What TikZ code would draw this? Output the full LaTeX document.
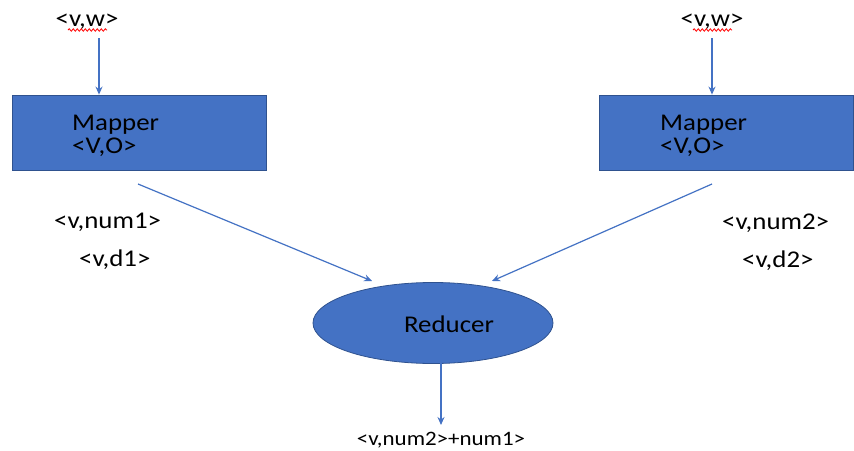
\documentclass[tikz,border=0pt]{standalone}
\usepackage{fontspec}
\setmainfont[FakeStretch=1.12]{Carlito}
\usetikzlibrary{arrows.meta,shapes.geometric,decorations.pathmorphing}
\definecolor{accent}{HTML}{4472C4}
\definecolor{accentdark}{HTML}{2F528F}
\tikzset{
  x=1pt, y=-1pt,
  every node/.style={font=\fontsize{24}{28}\selectfont, text=black, inner sep=0pt},
  smalltext/.style={font=\fontsize{20.5}{24}\selectfont},
  mapbox/.style={draw=accentdark, line width=0.8pt, fill=accent, minimum width=254pt, minimum height=75pt},
  redbox/.style={ellipse, draw=accentdark, line width=0.8pt, fill=accent, minimum width=240pt, minimum height=81pt},
  flow/.style={draw=accent, line width=1.2pt, -{Stealth[length=8pt,width=7pt]}},
  squiggle/.style={draw=red, line width=0.8pt, decorate, decoration={snake, amplitude=1.2pt, segment length=4pt}},
}
\begin{document}
\begin{tikzpicture}
\useasboundingbox (0,0) rectangle (854,450);
\fill[white] (0,0) rectangle (854,450);

% mapper boxes
\node[mapbox] (m1) at (139,132.5) {};
\node[mapbox] (m2) at (726,132.5) {};
\node[anchor=base west] (m1a) at (72,130) {Mapper};
\node[anchor=base west] (m1b) at (72,153) {<V,O>};
\node[anchor=base west] (m2a) at (660,130) {Mapper};
\node[anchor=base west] (m2b) at (660,153) {<V,O>};

% inputs
\node[anchor=base] (in1) at (87,26) {<v,w>};
\node[anchor=base] (in2) at (712,26) {<v,w>};
\draw[squiggle] (68,30) -- (107,30);
\draw[squiggle] (693,30) -- (732,30);
\coordinate (in1b) at (99,38);
\coordinate (in2b) at (712,38);
\draw[flow] (in1b) -- (in1b |- m1.north);
\draw[flow] (in2b) -- (in2b |- m2.north);

% reducer
\node[redbox] (red) at (433,323) {};
\node[anchor=base] (redt) at (449,332) {Reducer};

% mapper outputs
\coordinate (o1) at (138,184);
\coordinate (o2) at (712,184);
\coordinate (r1) at (372,281);
\coordinate (r2) at (492,281);
\draw[flow] (o1) -- (r1);
\draw[flow] (o2) -- (r2);

\node[anchor=base west] (l1) at (54,228) {<v,num1>};
\node[anchor=base west] (l2) at (79,266) {<v,d1>};
\node[anchor=base west] (l3) at (722,229) {<v,num2>};
\node[anchor=base west] (l4) at (742,267) {<v,d2>};

% result
\coordinate (rb) at (441,363);
\coordinate (rt) at (441,425);
\node[smalltext, anchor=base] (res) at (441,445) {<v,num2>+num1>};
\draw[flow] (rb) -- (rt);
\end{tikzpicture}
\end{document}
